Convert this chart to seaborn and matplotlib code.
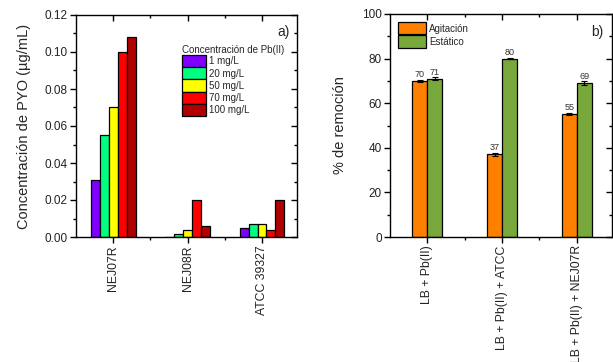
import matplotlib
matplotlib.use("Agg")
import matplotlib.pyplot as plt
import seaborn as sns
import pandas as pd
import numpy as np
from matplotlib.ticker import MultipleLocator, FixedLocator
from matplotlib.patches import Patch

# ---- data panel a ----
strains = ["NEJ07R", "NEJ08R", "ATCC 39327"]
conc_labels = ["1 mg/L", "20 mg/L", "50 mg/L", "70 mg/L", "100 mg/L"]
pyo_1 = [0.031, 0.0, 0.005]
pyo_20 = [0.055, 0.0015, 0.007]
pyo_50 = [0.070, 0.004, 0.007]
pyo_70 = [0.100, 0.020, 0.004]
pyo_100 = [0.108, 0.006, 0.020]
conc_colors = ["#8000ff", "#00ff80", "#ffff00", "#ff0000", "#b00000"]

# ---- data panel b ----
treatments = ["LB + Pb(II)", "LB + Pb(II) + ATCC", "LB + Pb(II) + NEJ07R"]
modes = ["Agitación", "Estático"]
rem_agit = [70, 37, 55]
rem_est = [71, 80, 69]
err_agit = [0.4, 0.5, 0.4]
err_est = [0.8, 0.4, 0.8]
mode_colors = ["#ff8000", "#78a83c"]

sns.set_theme(style="white")
plt.rcParams["font.family"] = ["Liberation Sans", "DejaVu Sans"]

fig = plt.figure(figsize=(6.13, 3.62), dpi=100)
W, H = 613, 362
def axpos(l, t, r, b):
    return [l / W, 1 - b / H, (r - l) / W, (b - t) / H]

axa = fig.add_axes(axpos(76, 15, 297, 237))
axb = fig.add_axes(axpos(390, 14, 612, 237))

df_a = pd.DataFrame({
    "strain": strains * 5,
    "conc": sum([[c] * 3 for c in conc_labels], []),
    "val": pyo_1 + pyo_20 + pyo_50 + pyo_70 + pyo_100,
})
sns.barplot(data=df_a, x="strain", y="val", hue="conc", hue_order=conc_labels,
            palette=conc_colors, width=0.6, edgecolor="black", linewidth=0.9,
            saturation=1, ax=axa, legend=False)

df_b = pd.DataFrame({
    "treat": treatments * 2,
    "mode": [modes[0]] * 3 + [modes[1]] * 3,
    "val": rem_agit + rem_est,
    "err": err_agit + err_est,
})
sns.barplot(data=df_b, x="treat", y="val", hue="mode", hue_order=modes,
            palette=mode_colors, width=0.4, edgecolor="black", linewidth=0.9,
            saturation=1, ax=axb, legend=False)

# error bars and value labels
for cont, errs, vals in zip(axb.containers, [err_agit, err_est], [rem_agit, rem_est]):
    xs = [p.get_x() + p.get_width() / 2 for p in cont.patches]
    hs = [p.get_height() for p in cont.patches]
    axb.errorbar(xs, hs, yerr=errs, fmt="none", ecolor="black", elinewidth=0.8,
                 capsize=2.5, capthick=0.8)
    axb.bar_label(cont, labels=[str(v) for v in vals], padding=1.5,
                  fontsize=6.5, color="#333333")

def style(ax, ylim, major, minor, fmt):
    ax.set_xlim(-0.5, 2.47)
    ax.set_ylim(*ylim)
    ax.set_xlabel("")
    ax.yaxis.set_major_locator(MultipleLocator(major))
    ax.yaxis.set_minor_locator(MultipleLocator(minor))
    ax.xaxis.set_minor_locator(FixedLocator([0.5, 1.5]))
    ax.yaxis.set_major_formatter(fmt)
    for s in ax.spines.values():
        s.set_visible(True)
        s.set_color("black")
        s.set_linewidth(1.0)
    ax.tick_params(axis="both", which="both", direction="out", color="black",
                   left=True, bottom=True, top=False, right=False)
    ax.tick_params(axis="both", which="major", length=4, width=1, labelsize=8.5,
                   pad=2, labelcolor="#222222")
    ax.tick_params(axis="both", which="minor", length=2.5, width=1)
    ax.tick_params(axis="x", labelrotation=90, labelsize=8.8)
    # mirrored inward ticks on top and right
    top = ax.secondary_xaxis("top")
    top.set_xticks([0, 1, 2])
    top.xaxis.set_minor_locator(FixedLocator([0.5, 1.5]))
    top.tick_params(which="both", direction="in", labeltop=False, color="black", width=1)
    top.tick_params(which="major", length=4)
    top.tick_params(which="minor", length=2.5)
    right = ax.secondary_yaxis("right")
    right.yaxis.set_major_locator(MultipleLocator(major))
    right.yaxis.set_minor_locator(MultipleLocator(minor))
    right.tick_params(which="both", direction="in", labelright=False, color="black", width=1)
    right.tick_params(which="major", length=4)
    right.tick_params(which="minor", length=2.5)
    for sec in (top, right):
        for s in sec.spines.values():
            s.set_visible(False)

style(axa, (0, 0.12), 0.02, 0.01, matplotlib.ticker.FormatStrFormatter("%.2f"))
style(axb, (0, 100), 20, 10, matplotlib.ticker.FormatStrFormatter("%d"))

axa.set_ylabel("Concentración de PYO (µg/mL)", fontsize=10.5, labelpad=10)
axb.set_ylabel("% de remoción", fontsize=10.5, labelpad=11)

axa.text(0.965, 0.925, "a)", transform=axa.transAxes, ha="right", va="center", fontsize=10)
axb.text(0.96, 0.92, "b)", transform=axb.transAxes, ha="right", va="center", fontsize=10)

# legends
h_a = [Patch(facecolor=c, edgecolor="black", linewidth=0.9) for c in conc_colors]
leg_a = axa.legend(h_a, conc_labels, title="Concentración de Pb(II)", loc="upper left",
                   bbox_to_anchor=(0.45, 0.895), frameon=False, fontsize=7,
                   title_fontsize=7, handlelength=2.4, handleheight=1.55,
                   handletextpad=0.3, labelspacing=0.0, borderpad=0.2)
leg_a._legend_box.align = "left"

h_b = [Patch(facecolor=c, edgecolor="black", linewidth=0.9) for c in mode_colors]
axb.legend(h_b, modes, loc="upper left", bbox_to_anchor=(0.0, 1.0), frameon=False,
           fontsize=7, handlelength=2.9, handleheight=1.55, handletextpad=0.3,
           labelspacing=0.1, borderpad=0.35)

fig.savefig("out.png", dpi=100)
